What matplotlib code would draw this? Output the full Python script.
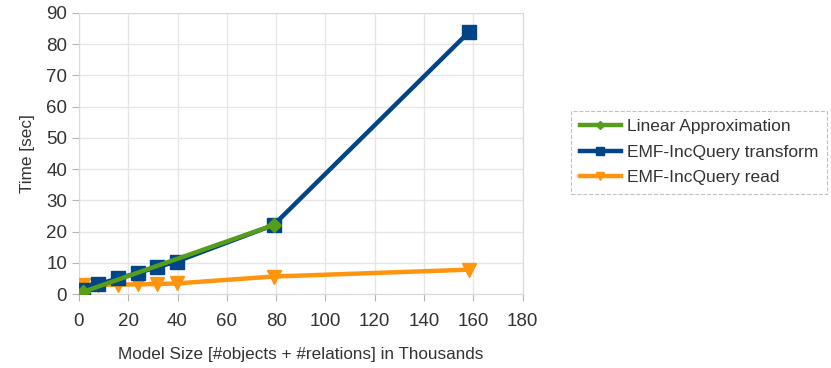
import matplotlib.pyplot as plt
import numpy as np

plt.rcParams['font.family'] = ['Liberation Sans', 'DejaVu Sans']

# model size in thousands
sizes = [1.7, 7.8, 15.9, 24.0, 31.7, 39.6, 79.0, 158.1]
transform_time = [1.3, 3.1, 5.0, 6.8, 8.6, 10.4, 22.1, 83.8]
read_time = [3.0, 2.9, 3.0, 3.1, 3.2, 3.4, 5.6, 7.8]
approx_sizes = [1.7, 79.0]
approx_time = [0.7, 22.1]

green = '#579d1c'
blue = '#004586'
orange = '#ff950e'

fig = plt.figure(figsize=(8.31, 3.68), dpi=100)
ax = fig.add_axes([0.095, 0.201, 0.534, 0.764])

ax.plot(sizes, read_time, color=orange, linewidth=3.2, marker='v',
        markersize=10, label='EMF-IncQuery read', zorder=3)
ax.plot(sizes, transform_time, color=blue, linewidth=3.2, marker='s',
        markersize=10, label='EMF-IncQuery transform', zorder=4)
ax.plot(approx_sizes, approx_time, color=green, linewidth=3.2, marker='D',
        markersize=7, label='Linear Approximation', zorder=5)

ax.set_xlim(0, 180)
ax.set_ylim(0, 90)
ax.set_xticks(np.arange(0, 181, 20))
ax.set_yticks(np.arange(0, 91, 10))
ax.grid(True, color='#e6e6e6', linewidth=1)
ax.set_axisbelow(True)
for s in ax.spines.values():
    s.set_color('#d9d9d9')
ax.tick_params(colors='#b3b3b3', labelcolor='#333333', labelsize=13.5, length=5)
ax.tick_params(axis='x', pad=9)

ax.set_xlabel('Model Size [#objects + #relations] in Thousands', fontsize=12.3,
              color='#333333', labelpad=12)
ax.set_ylabel('Time [sec]', fontsize=12.3, color='#333333', labelpad=8)

handles, labels = ax.get_legend_handles_labels()
order = [2, 1, 0]
leg = fig.legend([handles[i] for i in order], [labels[i] for i in order],
                 loc='center left', bbox_to_anchor=(0.687, 0.586), fontsize=12.5,
                 frameon=True, fancybox=False, handlelength=2.4,
                 borderpad=0.5, labelspacing=0.6, handletextpad=0.35,
                 borderaxespad=0, markerscale=0.6)
frame = leg.get_frame()
frame.set_edgecolor('#b3b3b3')
frame.set_linestyle('--')
frame.set_linewidth(0.8)
for t in leg.get_texts():
    t.set_color('#333333')

plt.savefig('out.png', dpi=100)
